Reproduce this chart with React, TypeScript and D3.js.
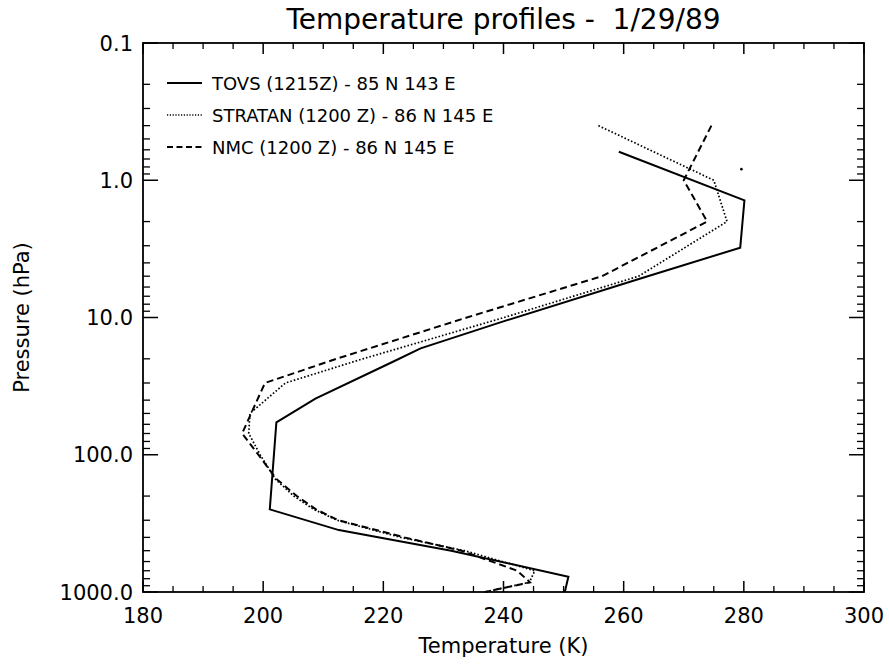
import * as d3 from 'd3';
import React from 'react';

// TOVS retrieval (solid)
const tovsPressure = [0.62, 1.4, 3.1, 5.2, 10.8, 16.8, 21, 39, 58, 250, 354, 500, 774, 1000];
const tovsTemp = [259.2, 280.1, 279.4, 262.8, 239.6, 226.2, 221.6, 208.7, 202.2, 201.1, 212.6, 231.3, 250.8, 250.2];

// STRATAN analysis (dotted)
const stratanPressure = [0.4, 1, 2, 5, 10, 20, 30, 50, 70, 100, 150, 200, 250, 300, 400, 500, 700, 850, 1000];
const stratanTemp = [255.8, 275.0, 277.2, 262.5, 240.1, 216.6, 203.7, 197.8, 197.6, 199.5, 202.0, 205.1, 208.4, 212.3, 222.9, 233.5, 245.2, 244.3, 236.9];

// NMC analysis (dashed)
const nmcPressure = [0.4, 1, 2, 5, 10, 20, 30, 50, 70, 100, 150, 200, 250, 300, 400, 500, 700, 850, 1000];
const nmcTemp = [274.6, 270.0, 273.9, 256.4, 233.9, 212.2, 200.3, 198.0, 196.5, 199.2, 202.2, 205.6, 208.8, 212.5, 223.5, 233.0, 242.3, 244.4, 236.9];

// lone speck near the STRATAN peak
const strayTemp = [279.6];
const strayPressure = [0.83];

const legendLabels = [
  'TOVS (1215Z) - 85 N 143 E',
  'STRATAN (1200 Z) - 86 N 145 E',
  'NMC (1200 Z) - 86 N 145 E',
];
const xTickValues = [180, 200, 220, 240, 260, 280, 300];
const yTickValues = [0.1, 1, 10, 100, 1000];

const W = 889;
const H = 666;
const margin = { left: 143, right: 25, top: 43, bottom: 74 };
const font = "'DejaVu Sans', sans-serif";

const styles = [
  { width: 2, dash: 'none' },
  { width: 1.7, dash: '1.6,2' },
  { width: 2, dash: '7,4' },
];

export default function App() {
  const x = d3.scaleLinear().domain([180, 300]).range([margin.left, W - margin.right]);
  const y = d3.scaleLog().domain([0.1, 1000]).range([margin.top, H - margin.bottom]);
  const [x0, x1] = x.range();
  const [y0, y1] = y.range();

  const line = d3
    .line<[number, number]>()
    .x((d) => x(d[0]))
    .y((d) => y(d[1]));

  const series = [
    d3.zip(tovsTemp, tovsPressure) as [number, number][],
    d3.zip(stratanTemp, stratanPressure) as [number, number][],
    d3.zip(nmcTemp, nmcPressure) as [number, number][],
  ];

  const xMinor = d3.range(180, 300.1, 5).filter((v) => v % 20 !== 0);
  const yMinor: number[] = [];
  for (let e = -1; e < 3; e++) {
    for (let k = 2; k <= 9; k++) yMinor.push(k * Math.pow(10, e));
  }

  return (
    <svg
      width={W}
      height={H}
      style={{ position: 'absolute', left: 0, top: 0, background: '#fff' }}
      fontFamily={font}
      fill="#000"
    >
      <text x={(x0 + x1) / 2} y={29} textAnchor="middle" fontSize={28} style={{ whiteSpace: 'pre' }}>
        {'Temperature profiles -  1/29/89'}
      </text>

      {/* curves */}
      {series.map((s, i) => (
        <path
          key={i}
          d={line(s) || ''}
          fill="none"
          stroke="#000"
          strokeWidth={styles[i].width}
          strokeDasharray={styles[i].dash}
        />
      ))}
      {strayTemp.map((t, i) => (
        <circle key={i} cx={x(t)} cy={y(strayPressure[i])} r={1.3} fill="#000" />
      ))}

      {/* frame */}
      <rect x={x0} y={y0} width={x1 - x0} height={y1 - y0} fill="none" stroke="#000" strokeWidth={1.8} />

      {/* x ticks, bottom and top */}
      {xTickValues.map((v) => (
        <g key={v}>
          <line x1={x(v)} x2={x(v)} y1={y1} y2={y1 - 11} stroke="#000" strokeWidth={1.5} />
          <line x1={x(v)} x2={x(v)} y1={y0} y2={y0 + 11} stroke="#000" strokeWidth={1.5} />
          <text x={x(v)} y={y1 + 31} textAnchor="middle" fontSize={21}>
            {v}
          </text>
        </g>
      ))}
      {xMinor.map((v) => (
        <g key={v}>
          <line x1={x(v)} x2={x(v)} y1={y1} y2={y1 - 6} stroke="#000" strokeWidth={1.3} />
          <line x1={x(v)} x2={x(v)} y1={y0} y2={y0 + 6} stroke="#000" strokeWidth={1.3} />
        </g>
      ))}

      {/* y ticks, left and right */}
      {yTickValues.map((v) => (
        <g key={v}>
          <line x1={x0} x2={x0 + 15} y1={y(v)} y2={y(v)} stroke="#000" strokeWidth={1.5} />
          <line x1={x1} x2={x1 - 15} y1={y(v)} y2={y(v)} stroke="#000" strokeWidth={1.5} />
          <text x={x0 - 10} y={y(v) + 7.5} textAnchor="end" fontSize={21}>
            {d3.format('.1f')(v)}
          </text>
        </g>
      ))}
      {yMinor.map((v) => (
        <g key={v}>
          <line x1={x0} x2={x0 + 7} y1={y(v)} y2={y(v)} stroke="#000" strokeWidth={1.3} />
          <line x1={x1} x2={x1 - 7} y1={y(v)} y2={y(v)} stroke="#000" strokeWidth={1.3} />
        </g>
      ))}

      {/* axis titles */}
      <text x={(x0 + x1) / 2} y={H - 13} textAnchor="middle" fontSize={21}>
        Temperature (K)
      </text>
      <text transform={`translate(29,${(y0 + y1) / 2}) rotate(-90)`} textAnchor="middle" fontSize={21}>
        Pressure (hPa)
      </text>

      {/* legend */}
      {legendLabels.map((label, i) => {
        const ly = 83 + i * 32;
        return (
          <g key={label}>
            <line
              x1={167}
              x2={202}
              y1={ly}
              y2={ly}
              stroke="#000"
              strokeWidth={i === 1 ? 1.4 : 1.8}
              strokeDasharray={i === 0 ? 'none' : i === 1 ? '1.2,1.6' : '6,3.5'}
            />
            <text x={212} y={ly + 6.5} fontSize={18}>
              {label}
            </text>
          </g>
        );
      })}
    </svg>
  );
}
